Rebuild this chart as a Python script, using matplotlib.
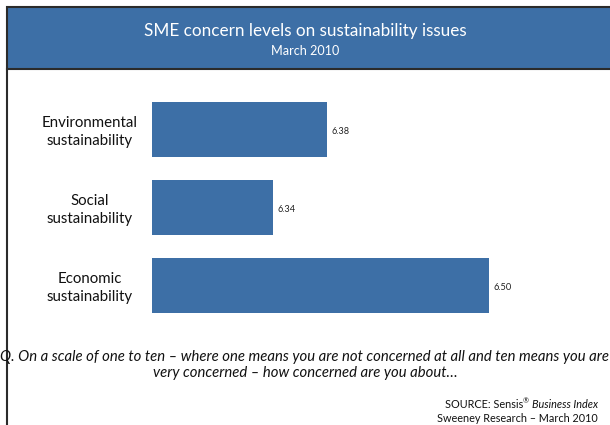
import matplotlib
matplotlib.use("Agg")
import matplotlib.pyplot as plt
from matplotlib.patches import Rectangle
from matplotlib.lines import Line2D
import matplotlib.transforms as mtrans

categories = ["Environmental\nsustainability", "Social\nsustainability", "Economic\nsustainability"]
values = [6.38, 6.34, 6.50]
value_labels = ["6.38", "6.34", "6.50"]
title = "SME concern levels on sustainability issues"
subtitle = "March 2010"
question1 = "Q. On a scale of one to ten \u2013 where one means you are not concerned at all and ten means you are"
question2 = "very concerned \u2013 how concerned are you about\u2026"
source1 = "SOURCE: Sensis"
source_reg = "\u00ae"
source2 = "Business Index"
source3 = "Sweeney Research \u2013 March 2010"

W, H = 610, 425
plt.rcParams['font.family'] = ['Lato', 'DejaVu Sans']
fig = plt.figure(figsize=(W / 100, H / 100), dpi=100)
renderer = fig.canvas.get_renderer()

def fit(t, target_px):
    bb = t.get_window_extent(renderer)
    t.set_fontsize(t.get_fontsize() * target_px / bb.width)
    return t

blue = "#3D6FA6"
dark = "#2b2b2b"

def fy(py):
    return 1 - py / H

# Title box
fig.patches.append(Rectangle((7 / W, fy(69)), 1.0, 62 / H, transform=fig.transFigure,
                             facecolor=blue, edgecolor=dark, linewidth=1.5, zorder=0))
fig.lines.append(Line2D([7 / W, 7 / W], [0, fy(69)], transform=fig.transFigure,
                        color=dark, linewidth=1.5))
fit(fig.text(305 / W, fy(31), title, color="white", ha="center", va="center", fontsize=12), 322)
fit(fig.text(305 / W, fy(51), subtitle, color="white", ha="center", va="center", fontsize=10), 68)

# Axes
left_px, right_px = 152, 600
top_px, bot_px = 90.5, 324.5
ax = fig.add_axes([left_px / W, fy(bot_px), (right_px - left_px) / W, (bot_px - top_px) / H])
scale = 1350.0
x0 = 6.25
ax.set_xlim(x0, x0 + (right_px - left_px) / scale)
ax.set_ylim(2.5, -0.5)
ypos = list(range(len(categories)))
ax.barh(ypos, values, height=0.705, color=blue)
for y, v, lab in zip(ypos, values, value_labels):
    t = ax.text(v + 4 / scale, y + 0.02, lab, va="center", ha="left", fontsize=7, color="#222222")
    fit(t, 18)
ax.set_xticks([])
ax.set_yticks([])
for s in ax.spines.values():
    s.set_visible(False)
ax.patch.set_alpha(0)

# category labels
probe = fig.text(0, 0, "Environmental", fontsize=11)
sz = 11 * 96 / probe.get_window_extent(renderer).width
probe.remove()
tr = mtrans.blended_transform_factory(fig.transFigure, ax.transData)
for y, c in zip(ypos, categories):
    fig.text(90 / W, y + 0.03, c, ha="center", va="center", fontsize=sz, color="#111111",
             multialignment="center", linespacing=1.4, transform=tr)

q1 = fig.text(305 / W, fy(357), question1, ha="center", va="center", fontsize=9,
              style="italic", color="#111111")
fit(q1, 606)
fig.text(305 / W, fy(373), question2, ha="center", va="center", fontsize=q1.get_fontsize(),
         style="italic", color="#111111")

s3 = fig.text(598 / W, fy(419), source3, ha="right", va="center", fontsize=7, color="#111111")
fit(s3, 161)
fs = s3.get_fontsize()
s2 = fig.text(598 / W, fy(404), source2, ha="right", va="center", fontsize=fs,
              style="italic", color="#111111")
bb = s2.get_window_extent(renderer)
r = fig.text((bb.x0 - 3) / W, fy(401), source_reg, ha="right", va="center", fontsize=fs * 0.65,
             color="#111111")
bb2 = r.get_window_extent(renderer)
fig.text(bb2.x0 / W, fy(404), source1, ha="right", va="center", fontsize=fs, color="#111111")

fig.savefig("out.png", dpi=100)
